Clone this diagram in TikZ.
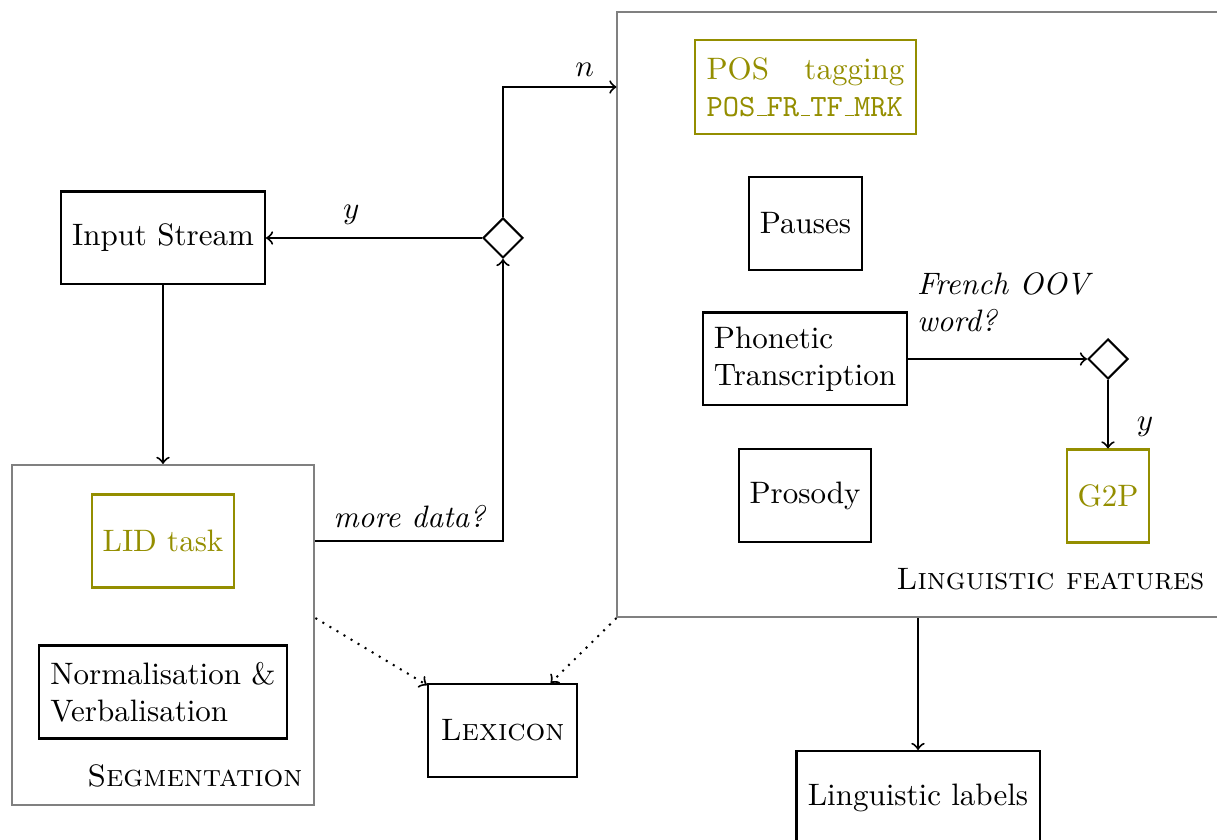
\documentclass[tikz,border=0pt]{standalone}
\usetikzlibrary{shapes.geometric}
\definecolor{featolive}{RGB}{148,142,0}
% low-line drawn as a rule, as in the classic typewriter encoding
\newcommand\tunder{\leavevmode\kern.06em\vbox{\hrule width.3em}}
\begin{document}
\begin{tikzpicture}[x=0.3226pt,y=-0.3226pt,
  box/.style={draw, line width=0.65pt, minimum height=30pt, inner sep=3.33pt},
  obox/.style={box, draw=featolive, text=featolive},
  group/.style={draw=gray, line width=0.65pt, inner sep=0pt},
  decision/.style={draw, line width=0.65pt, diamond, aspect=1, minimum size=12.9pt, inner sep=0pt},
  link/.style={line width=0.65pt, ->},
  weak/.style={line width=0.65pt, dotted, ->},
  grouptitle/.style={anchor=base east, inner sep=0pt}
]
\useasboundingbox (0,0) rectangle (1217,840);

% groups
\node[group, minimum width=97.7pt, minimum height=109.7pt] (seg) at (163,635) {};
\node[grouptitle] (segt) at (303,787) {\textsc{Segmentation}};
\node[group, minimum width=193.9pt, minimum height=195.2pt] (lf) at (918,314.5) {};
\node[grouptitle] (lft) at (1205,590) {\textsc{Linguistic features}};

% left column
\node[box, minimum width=65.8pt] (in) at (163,238) {Input Stream};
\node[obox, minimum width=46.1pt] (lid) at (163,541) {LID task};
\node[box, minimum width=79.7pt, align=left] (norm) at (163,692) {Normalisation \&\\Verbalisation};
\node[box, minimum width=48.1pt] (lex) at (502.5,730.5) {\textsc{Lexicon}};
\node[decision] (d1) at (503,238) {};

% linguistic features
\node[obox, minimum width=71.3pt, minimum height=30.3pt, text width=63.8pt, align=left] (pos) at (805.5,87)
  {POS\hfill tagging\\\texttt{POS\tunder FR\tunder TF\tunder MRK}};
\node[box, minimum width=36.5pt] (pau) at (805.5,223.5) {Pauses};
\node[box, minimum width=65.8pt, align=left] (pho) at (805,359) {Phonetic\\Transcription};
\node[box, minimum width=42.6pt] (pro) at (805,495.5) {Prosody};
\node[decision] (d2) at (1108,359) {};
\node[obox, minimum width=26.5pt] (g2p) at (1108,496) {G2P};

% output
\node[box, minimum width=78.4pt] (lab) at (918,797.5) {Linguistic labels};

% connectors
\draw[link] (d1.west) -- node[pos=0.605, above=4pt, inner sep=0pt] (ly) {$y$} (in.east);
\draw[link] (d1.north) |- node[pos=0.86, above=3pt, inner sep=0pt] (ln) {$n$} (pos.west -| lf.west);
\draw[link] (in.south) -- (seg.north);
\draw[link] (seg.east |- lid.east) -| node[pos=0.25, above=4pt, inner sep=0pt, font=\itshape] (lmore) {more data?} (d1.south);
\draw[weak] (seg.east |- lf.south west) -- (lex);
\draw[weak] (lf.south west) -- (lex);
\draw[link] (lf.south) -- (lab.north);
\draw[link] (pho.east) -- node[pos=0, anchor=north west, xshift=2.6pt, yshift=28.1pt, inner sep=0pt, align=left, font=\itshape] (loov) {French OOV\\word?} (d2.west);
\draw[link] (d2.south) -- node[pos=0.69, right=9pt, inner sep=0pt] (ly2) {$y$} (g2p.north);
\end{tikzpicture}
\end{document}
